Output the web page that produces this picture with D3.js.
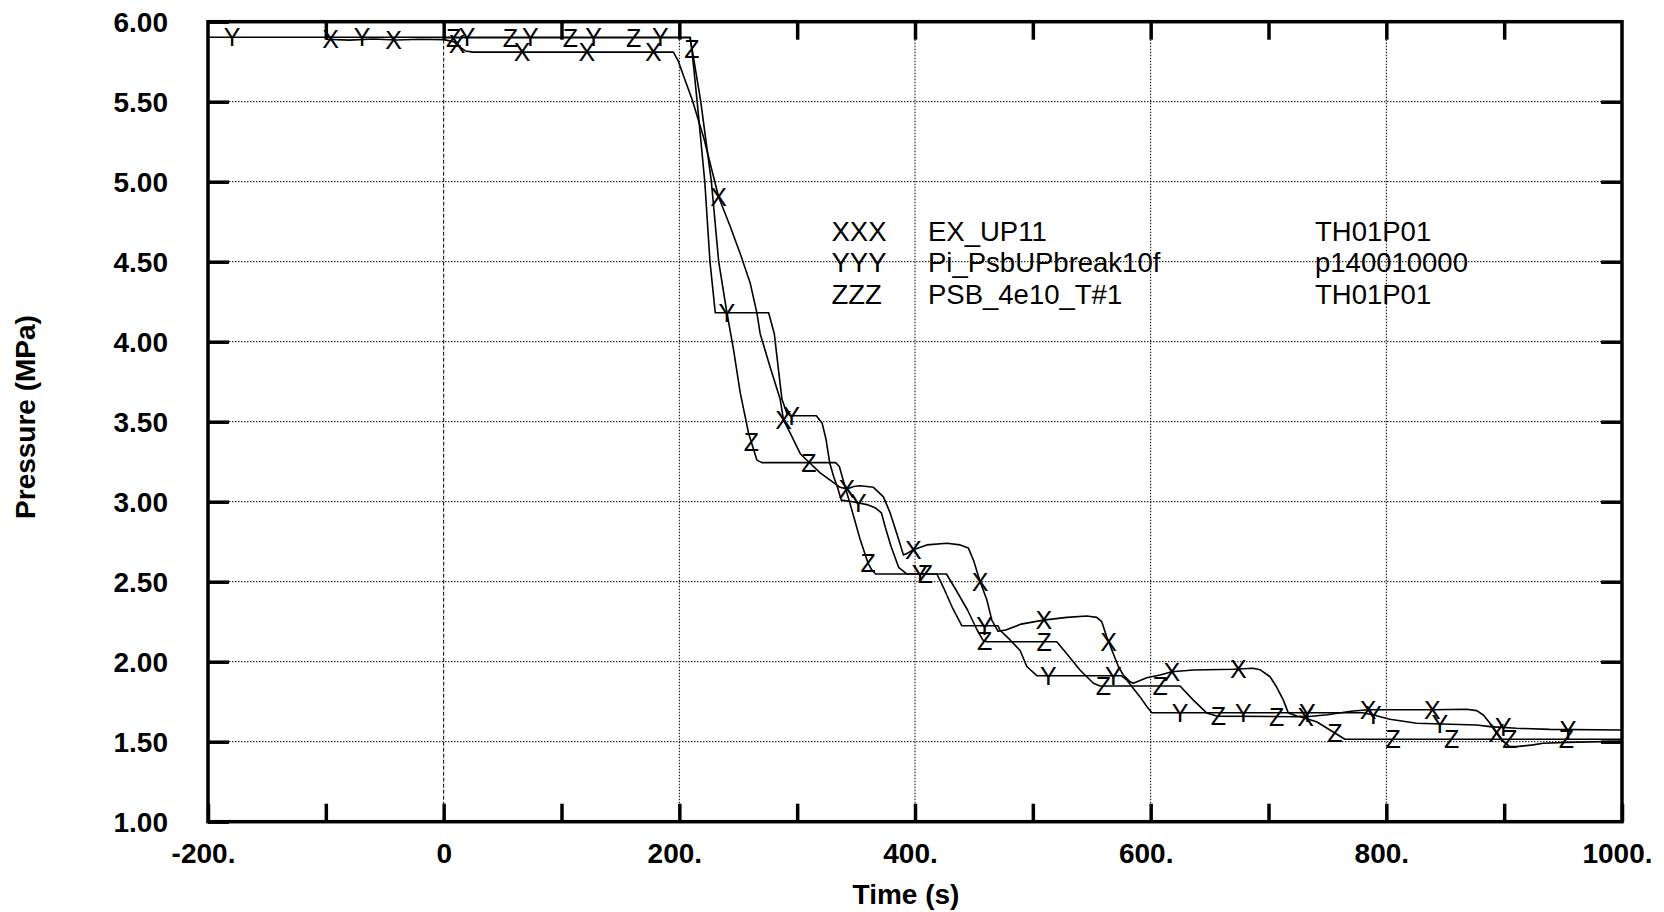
<!DOCTYPE html>
<html><head><meta charset="utf-8">
<script src="https://cdn.jsdelivr.net/npm/d3@7"></script>
<style>body{margin:0;background:#fff}svg{display:block}</style>
</head><body>
<svg id="c" width="1664" height="912"></svg>
<script>
// ---- data ----
const xTickValues = [-200,-100,0,100,200,300,400,500,600,700,800,900,1000];
const xLabelValues = [-200,0,200,400,600,800,1000];
const yTickValues = [1.0,1.5,2.0,2.5,3.0,3.5,4.0,4.5,5.0,5.5,6.0];
const xGridValues = [200,400,600,800];
const yGridValues = [1.5,2.0,2.5,3.0,3.5,4.0,4.5,5.0,5.5];

const legendCodes = ["XXX","YYY","ZZZ"];
const legendNames = ["EX_UP11","Pi_PsbUPbreak10f","PSB_4e10_T#1"];
const legendIds = ["TH01P01","p140010000","TH01P01"];
const markerLetters = ["X","Y","Z"];

// EX_UP11 (time s, pressure MPa)
const seriesX = [[-100,5.89],[-80,5.885],[-60,5.892],[-40,5.886],[-20,5.89],[0,5.888],[5,5.88],[8.5,5.875],[14.2,5.84],[18.4,5.817],[25,5.81],[195,5.81],[199.3,5.75],[203.6,5.66],[211,5.51],[220.5,5.28],[233.3,4.906],[243.2,4.72],[251.7,4.55],[260.2,4.365],[265.8,4.18],[268.6,4.05],[277.1,3.84],[285.6,3.64],[288.4,3.51],[294,3.43],[302.6,3.30],[311,3.24],[319.5,3.18],[328,3.135],[336.4,3.09],[342.2,3.08],[348,3.095],[353.5,3.10],[364.7,3.09],[373.2,3.03],[378.9,2.93],[384.6,2.80],[390.2,2.667],[394,2.68],[398.7,2.70],[410,2.73],[427,2.74],[438.3,2.73],[445.3,2.71],[449.6,2.635],[455.3,2.50],[461,2.386],[465.2,2.26],[470.5,2.19],[477,2.198],[490,2.235],[509,2.26],[528.8,2.277],[545.8,2.286],[554.2,2.277],[558.5,2.25],[562.7,2.156],[568.3,2.05],[572.6,1.97],[576.8,1.917],[582.5,1.875],[585.3,1.865],[596.7,1.90],[608,1.917],[618,1.9375],[636.2,1.948],[670.1,1.9525],[687,1.959],[692.8,1.95],[701.3,1.906],[707,1.84],[712.6,1.76],[716.8,1.68],[724,1.66],[732.4,1.656],[750,1.668],[770,1.69],[784.6,1.70],[839.3,1.70],[868.2,1.7025],[876.7,1.694],[882.3,1.667],[888,1.615],[893.7,1.5525],[899.4,1.50],[904.8,1.469],[910.5,1.469],[924.6,1.48],[933,1.49],[952.9,1.496],[1000,1.503]];

// Pi_PsbUPbreak10f
const seriesY = [[-200,5.903],[209.3,5.903],[211,5.80],[215,5.51],[221.6,5.00],[226,4.50],[230.5,4.181],[275.8,4.181],[280.6,4.05],[283.9,3.84],[287.1,3.64],[291.4,3.55],[295.3,3.5375],[316.3,3.5375],[321.2,3.49],[324.5,3.39],[327.7,3.24],[331,3.156],[334.2,3.09],[337.4,3.01],[347.2,3.0],[360.2,2.98],[366.6,2.96],[371.5,2.93],[374.8,2.84],[379.7,2.72],[386.1,2.59],[392.7,2.55],[418.6,2.548],[425,2.45],[431.6,2.34],[439.7,2.225],[470.5,2.225],[472,2.198],[480.7,2.136],[489.2,2.07],[494.9,1.97],[503.4,1.9125],[575,1.9125],[579.7,1.886],[591,1.78],[596.7,1.72],[601,1.681],[780,1.681],[790,1.665],[803,1.64],[825.7,1.615],[876.6,1.604],[888,1.594],[910.5,1.584],[938.8,1.577],[1000,1.573]];

// PSB_4e10_T#1
const seriesZ = [[0,5.90],[209,5.90],[211,5.82],[218,5.51],[227.2,5.00],[233.4,4.50],[240.4,4.18],[246,3.95],[251.7,3.68],[258.7,3.43],[265.8,3.26],[270,3.244],[332.6,3.244],[335.8,3.22],[339,3.136],[344,3.01],[348.8,2.886],[353.6,2.76],[360.2,2.615],[363.4,2.573],[366.6,2.548],[426.7,2.548],[434.8,2.448],[444.6,2.323],[452.7,2.198],[457.5,2.136],[460.8,2.125],[520.3,2.125],[528.8,2.05],[540,1.948],[551.4,1.865],[557,1.848],[624.9,1.848],[636.2,1.76],[647.5,1.68],[656,1.66],[726.7,1.656],[740.8,1.625],[752.1,1.573],[764.9,1.515],[1000,1.515]];

// marker times along each curve
const markersX = [-96,-42.4,11.3,66.5,121.6,178,233.3,288.4,342.2,398.7,455.3,509.3,564.4,618,674.4,731.4,784.6,839,893.5];
const markersY = [-179.5,-69.2,19.8,73.5,127.3,183.8,240.4,295.3,352,404.4,459,513.2,568.3,625,678.6,733,789,845.5,899.2,954.3];
const markersZ = [8.5,56.6,107.5,161.2,210.7,261.2,309.9,360.2,408.8,459.2,509.5,559.8,608,657.4,706.9,756.4,805.8,855.4,904.8,952.9];

// ---- drawing ----
const svg = d3.select("#c");
const L = 208, R = 1622, T = 21.7, B = 821.7;
const x = d3.scaleLinear().domain([-200,1000]).range([L,R]);
const y = d3.scaleLinear().domain([1,6]).range([B,T]);
const FONT = "'Liberation Sans', Arial, Helvetica, sans-serif";

// grid
const g = svg.append("g");
g.selectAll("line.hg").data(yGridValues).join("line")
  .attr("x1",L).attr("x2",R).attr("y1",d=>y(d)).attr("y2",d=>y(d))
  .attr("stroke","#000").attr("stroke-width",1).attr("stroke-dasharray","1.5,1.5");
g.selectAll("line.vg").data(xGridValues).join("line")
  .attr("y1",T).attr("y2",B).attr("x1",d=>x(d)).attr("x2",d=>x(d))
  .attr("stroke","#000").attr("stroke-width",1).attr("stroke-dasharray","1.5,1.5");
g.append("line").attr("x1",x(0)).attr("x2",x(0)).attr("y1",T).attr("y2",B)
  .attr("stroke","#000").attr("stroke-width",1).attr("stroke-dasharray","4,2");

// legend
const lg = svg.append("g").attr("font-family",FONT).attr("font-size",27.5).attr("fill","#000");
legendCodes.forEach((c,i)=>{
  const yy = 240.7 + i*31.7;
  lg.append("text").attr("x",831.5).attr("y",yy).text(c);
  lg.append("text").attr("x",928).attr("y",yy).text(legendNames[i]);
  lg.append("text").attr("x",1315).attr("y",yy).text(legendIds[i]);
});

// lines
const line = d3.line().x(d=>x(d[0])).y(d=>y(d[1]));
const allSeries = [seriesX, seriesY, seriesZ];
const allMarkers = [markersX, markersY, markersZ];
svg.append("g").selectAll("path").data(allSeries).join("path")
  .attr("d", line).attr("fill","none").attr("stroke","#000")
  .attr("stroke-width",1.6).attr("stroke-linejoin","round");

function interp(series, t){
  const ts = series.map(d=>d[0]);
  const i = Math.max(1, Math.min(series.length-1, d3.bisectLeft(ts, t)));
  const a = series[i-1], b = series[i];
  const f = (t-a[0])/(b[0]-a[0]);
  return a[1] + f*(b[1]-a[1]);
}
const mg = svg.append("g").attr("font-family",FONT).attr("font-size",25)
  .attr("text-anchor","middle").attr("fill","#000");
allMarkers.forEach((ms,k)=>{
  mg.selectAll("text.m"+k).data(ms).join("text").attr("class","m"+k)
    .attr("x",d=>x(d)).attr("y",d=>y(interp(allSeries[k],d)))
    .attr("dy","0.36em").text(markerLetters[k]);
});

// axes
const labFmt = d => xLabelValues.includes(d) ? (d===0 ? "0" : d + ".") : "";
const axB = svg.append("g").attr("transform",`translate(0,${B})`)
  .call(d3.axisBottom(x).tickValues(xTickValues).tickSize(-18).tickPadding(21.4).tickFormat(labFmt));
const axT = svg.append("g").attr("transform",`translate(0,${T})`)
  .call(d3.axisTop(x).tickValues(xTickValues.slice(1,-1)).tickSize(-18).tickFormat(""));
const axL = svg.append("g").attr("transform",`translate(${L},0)`)
  .call(d3.axisLeft(y).tickValues(yTickValues).tickSize(-21).tickPadding(40).tickFormat(d3.format(".2f")));
const axR = svg.append("g").attr("transform",`translate(${R},0)`)
  .call(d3.axisRight(y).tickValues(yTickValues.slice(1,-1)).tickSize(-21).tickFormat(""));
[axB,axT,axL,axR].forEach(a=>{
  a.select(".domain").remove();
  a.selectAll(".tick line").attr("stroke","#000").attr("stroke-width",3.5);
  a.selectAll("text").attr("font-family",FONT).attr("font-size",28).attr("font-weight","bold").attr("fill","#000");
});
axB.selectAll(".tick text").attr("dx", d => d===0 ? 0 : -5);
axL.selectAll(".tick text").attr("dy","0.34em");

// frame
svg.append("rect").attr("x",L).attr("y",T).attr("width",R-L).attr("height",B-T)
  .attr("fill","none").attr("stroke","#000").attr("stroke-width",3.5);

// titles
svg.append("text").attr("x",906).attr("y",904).attr("text-anchor","middle")
  .attr("font-family",FONT).attr("font-size",28).attr("font-weight","bold").text("Time (s)");
svg.append("text").attr("transform","translate(35,417) rotate(-90)").attr("text-anchor","middle")
  .attr("font-family",FONT).attr("font-size",28).attr("font-weight","bold").text("Pressure (MPa)");
</script>
</body></html>
